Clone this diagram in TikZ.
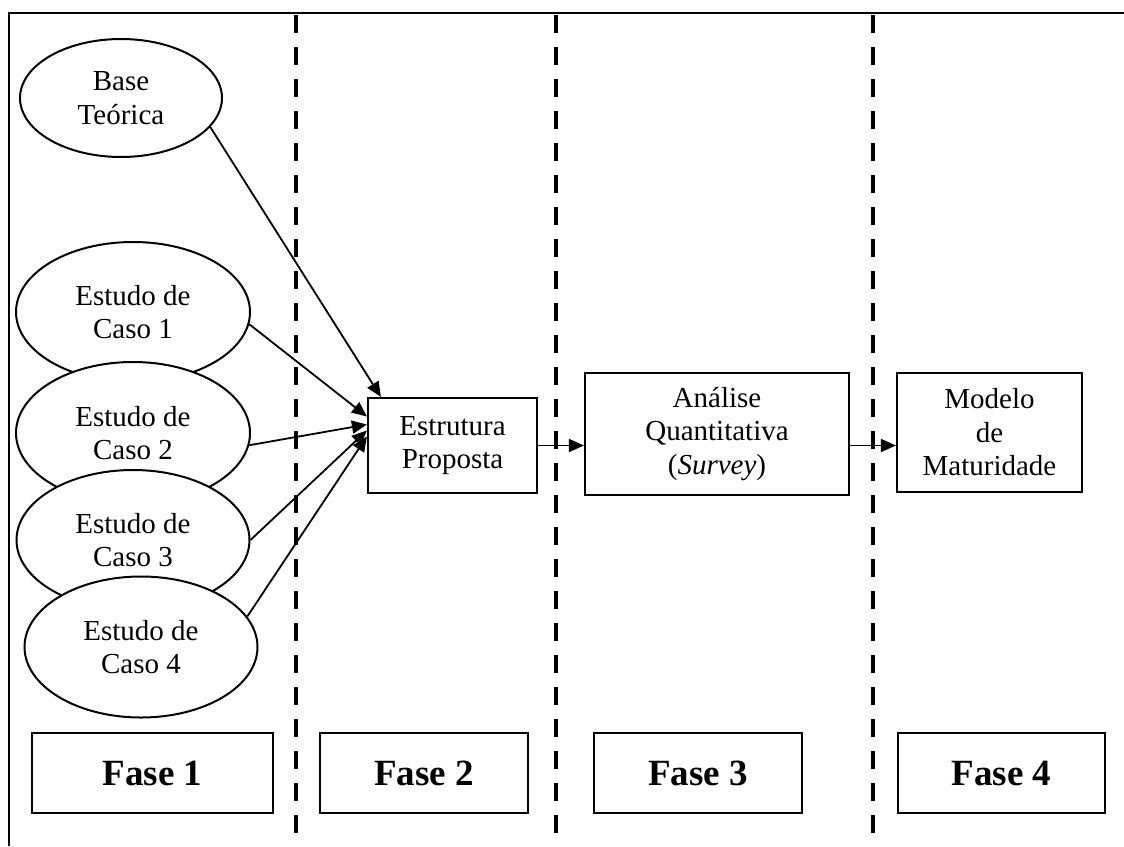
\documentclass[tikz,border=0pt]{standalone}
\usepackage{fontspec}
\setmainfont{Liberation Serif}
\usetikzlibrary{shapes.geometric,arrows.meta,calc}

\begin{document}
\begin{tikzpicture}[x=1pt,y=-1pt,
  src/.style={draw, ellipse, fill=white, line width=2pt, align=center, inner sep=0pt,
              font=\fontsize{29}{33.5}\selectfont},
  stage/.style={draw, rectangle, line width=2.2pt, align=center, inner sep=0pt,
                font=\fontsize{29}{33.5}\selectfont},
  phase/.style={draw, rectangle, line width=2.2pt, inner sep=0pt, minimum height=80pt,
                font=\fontsize{37}{40}\selectfont\bfseries},
  flow/.style={line width=1.8pt, -{Triangle[length=15pt,width=13pt]}},
  divider/.style={line width=4pt, dash pattern=on 18pt off 14pt}
]
\useasboundingbox (0,0) rectangle (1124,846);

% outer frame (top and left edges)
\draw[line width=2.4pt] (1124,13) -- (9,13) -- (9,846);

% phase dividers
\coordinate (d1t) at (296,15);  \coordinate (d1b) at (296,846);
\coordinate (d2t) at (556,15);  \coordinate (d2b) at (556,846);
\coordinate (d3t) at (873,15);  \coordinate (d3b) at (873,846);
\draw[divider] (d1t) -- (d1b);
\draw[divider] (d2t) -- (d2b);
\draw[divider] (d3t) -- (d3b);

% sources of phase 1
\node[src, minimum width=202pt, minimum height=118pt] (bt) at (121,98) {Base\\Teórica};
\node[src, minimum width=234pt, minimum height=140pt] (c1) at (133,312) {Estudo de\\Caso 1};
\node[src, minimum width=234pt, minimum height=142pt] (c2) at (133,433) {Estudo de\\Caso 2};
\node[src, minimum width=233pt, minimum height=140pt] (c3) at (133,540) {Estudo de\\Caso 3};
\node[src, minimum width=233pt, minimum height=141pt] (c4) at (141,647) {Estudo de\\Caso 4};

% stages
\node[stage, minimum width=169pt, minimum height=95pt] (ep) at (452.5,445.5) {Estrutura\\Proposta};
\node[stage, minimum width=264pt, minimum height=122pt] (aq) at (717,434) {Análise\\Quantitativa\\(\textit{Survey})};
\node[stage, minimum width=185pt, minimum height=119pt] (mm) at (989.5,432.5) {Modelo\\de\\Maturidade};

% phase labels
\node[phase, minimum width=241pt] (f1) at (152.5,773) {Fase 1};
\node[phase, minimum width=208pt] (f2) at (424,773) {Fase 2};
\node[phase, minimum width=208pt] (f3) at (698,773) {Fase 3};
\node[phase, minimum width=207pt] (f4) at (1001.5,773) {Fase 4};

% connectors
\draw[flow] (bt.-18) -- ([xshift=14pt]ep.north west);
\draw[flow] (c1.-6) -- ([yshift=29pt]ep.west);
\draw[flow] (c2.-6) -- ([yshift=21pt]ep.west);
\draw[flow] (c3.0) -- ([yshift=15pt]ep.west);
\draw[flow] (c4.16) -- ([yshift=9pt]ep.west);
\draw[flow] (ep.east) -- (ep.east -| aq.west);
\draw[flow] (aq.east |- ep.east) -- (mm.west |- ep.east);
\end{tikzpicture}
\end{document}
